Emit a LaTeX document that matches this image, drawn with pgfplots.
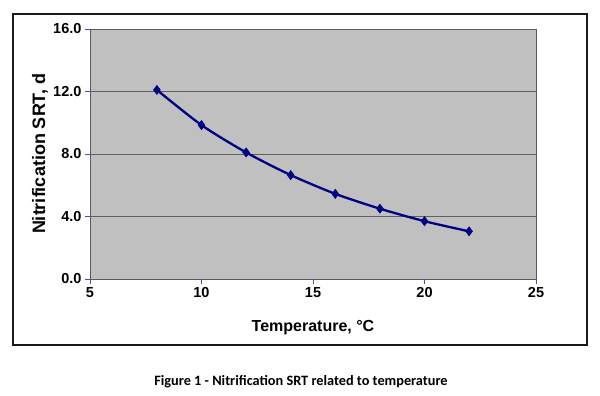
\documentclass[border=0pt]{standalone}
\usepackage{pgfplots}
\pgfplotsset{compat=1.18}
\usepackage{fontspec}
\setmainfont{Liberation Sans}
\newfontfamily\calibri{Carlito}
\definecolor{plotgray}{HTML}{C0C0C0}
\definecolor{navyline}{HTML}{000080}
\begin{document}
\begin{tikzpicture}[x=1pt,y=1pt]
\path[use as bounding box] (0,0) rectangle (600,396);
\draw[line width=1.3pt, black!90] (13,51) rectangle (587,382);
\begin{axis}[at={(90pt,117pt)}, anchor=south west, scale only axis,
  width=446pt, height=250pt,
  xmin=5, xmax=25, ymin=0, ymax=16,
  xtick={5,10,15,20,25}, ytick={0,4,8,12,16},
  axis background/.style={fill=plotgray},
  ymajorgrids, grid style={gray!75!black, line width=0.8pt},
  axis line style={gray!70!black, line width=0.8pt},
  tick align=outside, tick pos=left, major tick length=5pt,
  tick style={gray!60!blue, line width=0.8pt},
  /pgf/number format/assume math mode=true,
  y tick label style={/pgf/number format/.cd, fixed, fixed zerofill, precision=1, assume math mode=true},
  ticklabel style={font=\bfseries\fontsize{14.5}{16}\selectfont},
  xlabel={Temperature, °C}, ylabel={Nitrification SRT, d},
  xlabel style={font=\bfseries\fontsize{16}{18}\selectfont, at={(axis description cs:0.5,0)}, anchor=center, yshift=-49pt},
  ylabel style={font=\bfseries\fontsize{18}{20}\selectfont, at={(axis description cs:-0.112,0.5)}, anchor=center},
]
\addplot[navyline, line width=2.3pt, smooth, tension=0.45, mark=diamond*, mark size=4.6pt, mark options={fill=navyline, draw=navyline, line width=0.5pt}]
coordinates {(8,12.1) (10,9.85) (12,8.1) (14,6.65) (16,5.45) (18,4.5) (20,3.7) (22,3.05)};
\end{axis}
\node[font=\calibri\bfseries\fontsize{14.3}{16}\selectfont] at (301,14.5) {Figure 1 - Nitrification SRT related to temperature};
\end{tikzpicture}
\end{document}
